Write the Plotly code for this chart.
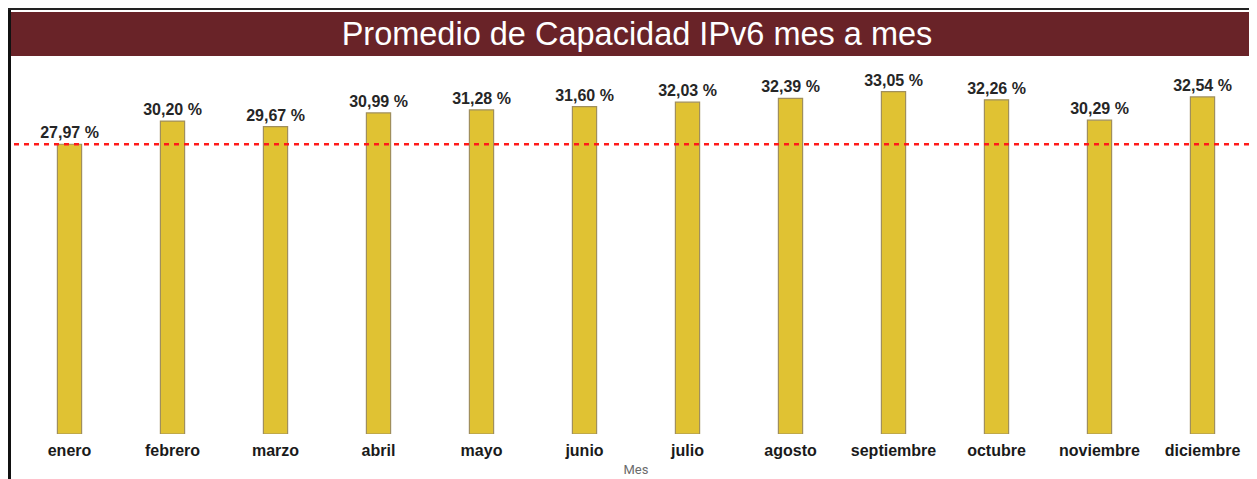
import plotly.graph_objects as go

months = ["enero", "febrero", "marzo", "abril", "mayo", "junio", "julio",
          "agosto", "septiembre", "octubre", "noviembre", "diciembre"]
capacity = [27.97, 30.20, 29.67, 30.99, 31.28, 31.60, 32.03,
            32.39, 33.05, 32.26, 30.29, 32.54]
reference_line = 27.97
title_text = "Promedio de Capacidad IPv6 mes a mes"
x_title = "Mes"

# the page body has an 8px margin; the figure is sized so it ends at the window edge
OFF = 8
W, H = 1257 - OFF, 479 - OFF
L, R, T, B = 18 - OFF, 2.5, 60 - OFF, 45
PW, PH = W - L - R, H - T - B


def px(xs):  # screen x -> paper
    return (xs - OFF - L) / PW


def py(ys):  # screen y -> paper
    return (H - (ys - OFF) - B) / PH


fig = go.Figure()
fig.add_trace(go.Bar(
    x=months, y=capacity,
    marker=dict(color="#E0C233", line=dict(color="#A08F5C", width=1.2)),
    width=0.235,
    texttemplate="%{y:.2f} %", textposition="outside", cliponaxis=False,
    constraintext="none",
    textfont=dict(family="Liberation Sans", size=16, color="#262626", weight="bold"),
    hoverinfo="skip",
))

fig.add_shape(type="line", xref="paper", yref="y", x0=px(14), x1=1.01,
              y0=reference_line, y1=reference_line,
              line=dict(color="#FF1A1A", width=2.5, dash="5px,5px"))

# banner and frame
fig.add_shape(type="rect", xref="paper", yref="paper",
              x0=px(11), x1=1.01, y0=py(56), y1=py(12),
              fillcolor="#692328", line=dict(width=0), layer="below")
fig.add_shape(type="line", xref="paper", yref="paper",
              x0=px(9.5), x1=px(9.5), y0=-0.2, y1=py(8),
              line=dict(color="#111111", width=3))
fig.add_shape(type="line", xref="paper", yref="paper",
              x0=px(8), x1=1.01, y0=py(9), y1=py(9),
              line=dict(color="#222222", width=2))

fig.update_layout(
    width=W, height=H,
    margin=dict(l=L, r=R, t=T, b=B, autoexpand=False),
    paper_bgcolor="white", plot_bgcolor="white",
    separators=",.",
    showlegend=False,
    title=dict(text=title_text, x=(637 - OFF) / W, xanchor="center",
               y=1 - (34 - OFF) / H, yanchor="middle",
               font=dict(family="Liberation Sans", size=32.5, color="white")),
    xaxis=dict(showgrid=False, showline=False, ticks="", zeroline=False,
               tickfont=dict(family="Liberation Sans", size=16, color="#1a1a1a", weight="bold"),
               ticklabelstandoff=5,
               title=dict(text=x_title, standoff=6,
                          font=dict(family="Roboto", size=13, color="#6b6b6b"))),
    yaxis=dict(range=[0, 36.1], visible=False, showgrid=False, zeroline=False),
    bargap=0.77,
)

fig.write_html("out.html")
